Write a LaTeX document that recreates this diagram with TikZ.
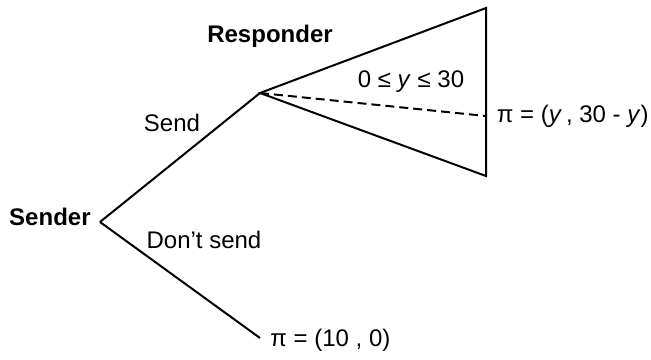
\documentclass[tikz,border=0pt]{standalone}
\usepackage{fontspec}
\setmainfont{Liberation Sans}
\begin{document}
\begin{tikzpicture}[x=0.5pt,y=-0.5pt,
  edge/.style={line width=1pt, line join=miter},
  dashedge/.style={line width=1pt, dash pattern=on 4.5pt off 2.5pt},
  player/.style={font=\fontsize{12}{14}\selectfont\bfseries, inner sep=0pt},
  lab/.style={font=\fontsize{12}{14}\selectfont, inner sep=0pt}]
\useasboundingbox (0,0) rectangle (651,359);
% decision nodes and end points
\coordinate (sender) at (100,222);
\coordinate (resp) at (260,93);
\coordinate (top) at (486,8);
\coordinate (bot) at (486,176);
\coordinate (mid) at (486,116);
\coordinate (leaf) at (260,338);
% branches
\draw[edge] (sender) -- (resp);
\draw[edge] (sender) -- (leaf);
\draw[edge] (top) -- (resp) -- (bot) -- cycle;
\draw[dashedge] (resp) -- (mid);
% labels
\node[player, anchor=east] (sname) at (91,217) {Sender};
\node[player] (rname) at (270,36) {Responder};
\node[lab] (send) at (172,123) {Send};
\node[lab] (nosend) at (204,240) {Don’t send};
\node[lab] (range) at (411,82) {0 ≤ \textit{y} ≤ 30};
\node[lab, anchor=east] (pay1) at (649,116) {π = (\textit{y}\,, 30 - \textit{y})};
\node[lab, anchor=west] (pay2) at (270,340) {π = (10 , 0)};
\end{tikzpicture}
\end{document}
